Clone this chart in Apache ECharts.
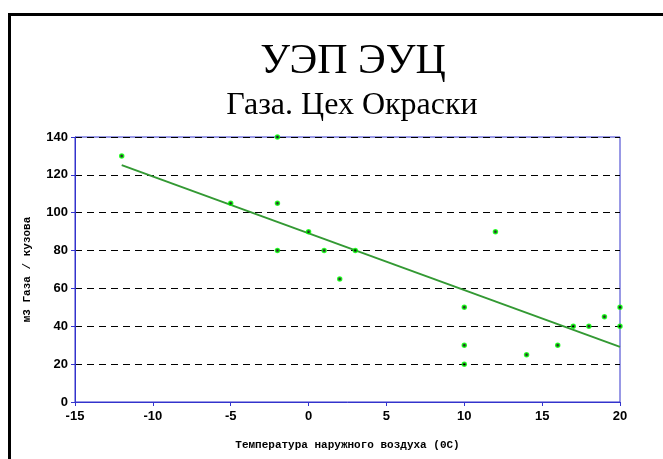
<!DOCTYPE html>
<html>
<head>
<meta charset="utf-8">
<script src="https://cdn.jsdelivr.net/npm/echarts@6/dist/echarts.min.js"></script>
<style>
	html, body { margin: 0; padding: 0; background: #fff; }
	#chart { width: 663px; height: 459px; }
</style>
</head>
<body>
<div id="chart"></div>
<script>
// температура наружного воздуха
const tempX = [-12, -5, -2, -2, -2, 0, 1, 2, 3, 10, 10, 10, 12, 14, 16, 17, 18, 19, 20, 20];
// м3 газа на кузов
const gasY = [130, 105, 140, 105, 80, 90, 80, 65, 80, 50, 30, 20, 90, 25, 30, 40, 40, 45, 50, 40];
const xTicks = [-15, -10, -5, 0, 5, 10, 15, 20];
const yTicks = [0, 20, 40, 60, 80, 100, 120, 140];

// линейный тренд (МНК)
function linearTrend(xs, ys) {
	let n = xs.length, sx = 0, sy = 0, sxy = 0, sxx = 0;
	for (let i = 0; i < n; i++) {
		sx += xs[i]; sy += ys[i];
		sxy += xs[i] * ys[i]; sxx += xs[i] * xs[i];
	}
	let k = (n * sxy - sx * sy) / (n * sxx - sx * sx);
	let b = (sy - k * sx) / n;
	let x0 = Math.min(...xs), x1 = Math.max(...xs);
	return [[x0, k * x0 + b], [x1, k * x1 + b]];
}

const points = tempX.map((x, i) => [x, gasY[i]]);
const chart = echarts.init(document.getElementById('chart'));

chart.setOption({
	animation: false,
	title: [
		{
			text: 'УЭП ЭУЦ',
			left: 348, top: 36, textAlign: 'center',
			textStyle: { fontFamily: 'Liberation Serif', fontSize: 42, fontWeight: 'normal', color: '#000' }
		},
		{
			text: 'Газа. Цех Окраски',
			left: 347, top: 85, textAlign: 'center',
			textStyle: { fontFamily: 'Liberation Serif', fontSize: 32, fontWeight: 'normal', color: '#000' }
		}
	],
	graphic: [
		{
			type: 'rect',
			shape: { x: 9.5, y: 14.5, width: 700, height: 500 },
			style: { fill: 'none', stroke: '#000', lineWidth: 3 },
			z: 100
		}
	],
	grid: {
		left: 75, right: 43, top: 137, bottom: 57,
		show: true, borderColor: '#3333cc', borderWidth: 1, backgroundColor: '#fff'
	},
	xAxis: {
		type: 'value',
		min: xTicks[0], max: xTicks[xTicks.length - 1], interval: 5,
		name: 'Температура наружного воздуха (0С)',
		nameLocation: 'middle', nameGap: 38,
		nameTextStyle: { fontFamily: 'Liberation Mono', fontWeight: 'bold', fontSize: 11, color: '#000' },
		axisLine: { show: true, onZero: false, lineStyle: { color: '#3333cc', width: 1 } },
		axisTick: { show: true, length: 4, lineStyle: { color: '#3333cc' } },
		axisLabel: { fontFamily: 'Liberation Sans', fontWeight: 'bold', fontSize: 13, color: '#000', margin: 8 },
		splitLine: { show: false }
	},
	yAxis: {
		type: 'value',
		min: yTicks[0], max: yTicks[yTicks.length - 1], interval: 20,
		name: 'м3 Газа / кузова',
		nameLocation: 'middle', nameGap: 42,
		nameTextStyle: { fontFamily: 'Liberation Mono', fontWeight: 'bold', fontSize: 11, color: '#000' },
		axisLine: { show: true, onZero: false, lineStyle: { color: '#3333cc', width: 1 } },
		axisTick: { show: true, length: 4, lineStyle: { color: '#3333cc' } },
		axisLabel: { fontFamily: 'Liberation Sans', fontWeight: 'bold', fontSize: 13, color: '#000', margin: 7 },
		splitLine: { show: true, lineStyle: { color: '#000', type: [7, 5], width: 1 } }
	},
	series: [
		{
			type: 'line',
			data: linearTrend(tempX, gasY),
			symbol: 'none',
			lineStyle: { color: '#339933', width: 2 },
			z: 2
		},
		{
			type: 'scatter',
			data: points,
			symbol: 'circle',
			symbolSize: 4,
			itemStyle: { color: '#000', borderColor: '#00ff00', borderWidth: 1.5 },
			z: 3
		}
	]
});
</script>
</body>
</html>
